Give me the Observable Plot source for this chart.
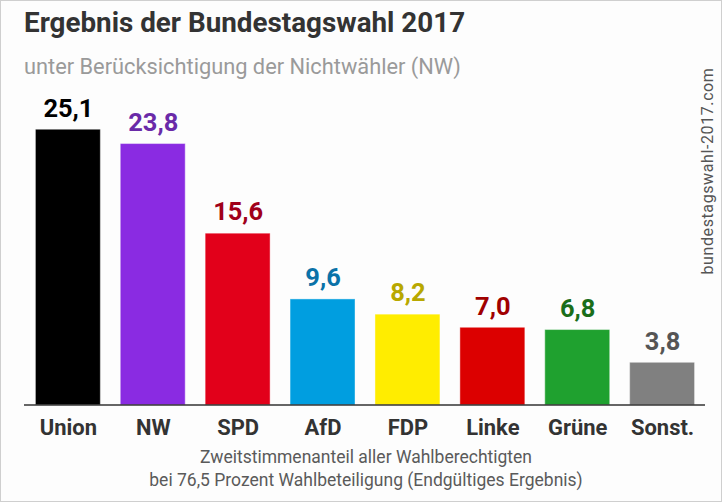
<!DOCTYPE html>
<html>
<head>
<meta charset="utf-8">
<script src="https://cdn.jsdelivr.net/npm/d3@7"></script>
<script src="https://cdn.jsdelivr.net/npm/@observablehq/plot@0.6"></script>
<style>
  html, body { margin: 0; padding: 0; background: #fff; }
  #frame { position: relative; width: 720px; height: 500px; border: 1px solid #cfcfcf; background: #fdfdfd; overflow: hidden; font-family: Roboto, "Noto Sans", sans-serif; }
  #title { position: absolute; left: 23px; top: 5px; font-size: 27.8px; font-weight: 700; color: #333; white-space: nowrap; }
  #subtitle { position: absolute; left: 23px; top: 53px; font-size: 21.8px; color: #9a9a9a; white-space: nowrap; }
  #caption { position: absolute; left: 0; width: 730px; top: 445px; text-align: center; font-size: 17.5px; line-height: 23px; color: #5a5a5a; }
  #side { position: absolute; left: 706px; top: 170px; transform: translate(-50%, -50%) rotate(-90deg); font-size: 16px; color: #555; white-space: nowrap; letter-spacing: 0.6px; }
  #chart { position: absolute; left: -1px; top: -1px; }
</style>
</head>
<body>
<div id="frame">
  <div id="chart"></div>
  <div id="title">Ergebnis der Bundestagswahl 2017</div>
  <div id="subtitle">unter Berücksichtigung der Nichtwähler (NW)</div>
  <div id="caption">Zweitstimmenanteil aller Wahlberechtigten<br>bei 76,5 Prozent Wahlbeteiligung (Endgültiges Ergebnis)</div>
  <div id="side">bundestagswahl-2017.com</div>
</div>
<script>
const parties = ["Union", "NW", "SPD", "AfD", "FDP", "Linke", "Grüne", "Sonst."];
const values = [25.1, 23.8, 15.6, 9.6, 8.2, 7.0, 6.8, 3.8];
const barColors = ["#000000", "#8a2be2", "#e2001a", "#009ee0", "#ffed00", "#dc0000", "#1fa12f", "#808080"];
const labelColors = ["#000000", "#6a2aa8", "#a0001a", "#0a72a8", "#b8a800", "#a00000", "#1a6e1a", "#555555"];

const data = parties.map((p, i) => ({party: p, value: values[i], bar: barColors[i], label: labelColors[i]}));

const chart = Plot.plot({
  width: 722,
  height: 502,
  marginTop: 130,
  marginBottom: 97,
  marginLeft: 24,
  marginRight: 16,
  style: {background: "transparent", fontFamily: "Roboto, 'Noto Sans', sans-serif"},
  x: {domain: parties, paddingInner: 0.25, paddingOuter: 0.125, label: null},
  y: {domain: [0, 25.1], axis: null},
  marks: [
    Plot.barY(data, {x: "party", y: "value", fill: d => d.bar, stroke: d => d.bar, strokeOpacity: 0.6}),
    Plot.text(data, {x: "party", y: "value", text: d => d.value.toFixed(1).replace(".", ","), fill: d => d.label, dy: -22, fontSize: 25.5, fontWeight: "bold"}),
    Plot.ruleY([0], {stroke: "#333", strokeWidth: 1.5}),
    Plot.axisX({tickSize: 0, tickPadding: 14, fontSize: 22, fontWeight: "bold", color: "#333", label: null})
  ]
});
document.getElementById("chart").appendChild(chart);
</script>
</body>
</html>
